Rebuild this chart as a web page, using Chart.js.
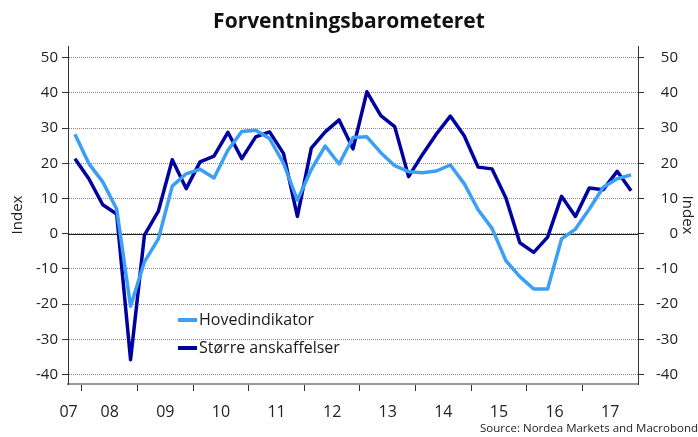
<!DOCTYPE html>
<html>
<head>
<meta charset="utf-8">
<script src="https://cdn.jsdelivr.net/npm/chart.js@4/dist/chart.umd.min.js"></script>
<style>
  html, body { margin: 0; padding: 0; background: #fff; }
  #wrap { width: 698px; height: 437px; }
</style>
</head>
<body>
<div id="wrap"><canvas id="chart"></canvas></div>
<script>
// quarterly observations, 2007Q4 - 2017Q4
const quarters = [
  '2007Q4',
  '2008Q1','2008Q2','2008Q3','2008Q4',
  '2009Q1','2009Q2','2009Q3','2009Q4',
  '2010Q1','2010Q2','2010Q3','2010Q4',
  '2011Q1','2011Q2','2011Q3','2011Q4',
  '2012Q1','2012Q2','2012Q3','2012Q4',
  '2013Q1','2013Q2','2013Q3','2013Q4',
  '2014Q1','2014Q2','2014Q3','2014Q4',
  '2015Q1','2015Q2','2015Q3','2015Q4',
  '2016Q1','2016Q2','2016Q3','2016Q4',
  '2017Q1','2017Q2','2017Q3','2017Q4'
]
const hovedindikator = [
  28.2,
  19.9, 14.7, 7.0, -20.6,
  -8.0, -1.5, 13.5, 17.0,
  18.3, 15.8, 23.7, 29.0,
  29.4, 27.0, 20.0, 9.5,
  18.2, 24.9, 19.8, 27.3,
  27.5, 23.0, 19.3, 17.6,
  17.3, 17.8, 19.5, 14.2,
  6.8, 1.5, -7.7, -12.2,
  -15.7, -15.7, -1.5, 1.3,
  7.0, 13.2, 15.6, 16.7
]
const anskaffelser = [
  21.3,
  15.6, 8.2, 5.6, -35.8,
  -0.4, 6.4, 21.0, 12.8,
  20.4, 22.0, 28.8, 21.3,
  27.5, 28.9, 22.8, 4.9,
  24.3, 28.9, 32.3, 24.1,
  40.3, 33.5, 30.4, 16.2,
  22.5, 28.3, 33.4, 27.8,
  18.9, 18.4, 10.1, -2.6,
  -5.3, -1.0, 10.6, 4.9,
  13.0, 12.5, 17.7, 12.2
]
const yTicks = [-40, -30, -20, -10, 0, 10, 20, 30, 40, 50]
const years = [2007, 2008, 2009, 2010, 2011, 2012, 2013, 2014, 2015, 2016, 2017]
const yMin = -42.7, yMax = 53.3
const xMin = 2007.75, xMax = 2018

const FONT = "'Open Sans', sans-serif"
const LIGHT = '#3a9ff5'
const DARK = '#0000a0'

// quarter label -> mid-quarter position on the time axis
const qx = q => +q.slice(0, 4) + (+q.slice(5) - 1) * 0.25 + 0.125
const series = arr => arr.map((v, i) => ({x: qx(quarters[i]), y: v}))

const fixTicks = values => scale => { scale.ticks = values.map(v => ({value: v})) }

// solid zero line on top of the dotted grid
const zeroLine = {
  id: 'zeroLine',
  beforeDatasetsDraw(chart) {
    const {ctx, chartArea, scales} = chart
    const y = Math.round(scales.y.getPixelForValue(0)) + 0.5
    ctx.save()
    ctx.strokeStyle = '#222'
    ctx.lineWidth = 1
    ctx.beginPath()
    ctx.moveTo(chartArea.left, y)
    ctx.lineTo(chartArea.right, y)
    ctx.stroke()
    ctx.restore()
  }
}

// legend sitting inside the plot, lower left
const innerLegend = {
  id: 'innerLegend',
  afterDatasetsDraw(chart) {
    const {ctx, chartArea} = chart
    const x0 = chartArea.left + 110
    let y = chartArea.top + 274
    ctx.save()
    ctx.font = '16px ' + FONT
    ctx.textBaseline = 'middle'
    chart.data.datasets.forEach(ds => {
      ctx.strokeStyle = ds.borderColor
      ctx.lineWidth = 4
      ctx.beginPath()
      ctx.moveTo(x0, y)
      ctx.lineTo(x0 + 19, y)
      ctx.stroke()
      ctx.fillStyle = '#1a1a1a'
      ctx.fillText(ds.label, x0 + 21, y)
      y += 28
    })
    ctx.restore()
  }
}

new Chart(document.getElementById('chart'), {
  type: 'line',
  data: {
    datasets: [
      {
        label: 'Hovedindikator',
        data: series(hovedindikator),
        borderColor: LIGHT,
        backgroundColor: LIGHT,
        borderWidth: 3.5,
        borderJoinStyle: 'round',
        pointRadius: 0,
        tension: 0
      },
      {
        label: 'Større anskaffelser',
        data: series(anskaffelser),
        borderColor: DARK,
        backgroundColor: DARK,
        borderWidth: 3.5,
        borderJoinStyle: 'round',
        pointRadius: 0,
        tension: 0
      }
    ]
  },
  options: {
    responsive: true,
    maintainAspectRatio: false,
    animation: false,
    layout: {padding: 0},
    plugins: {
      legend: {display: false},
      tooltip: {enabled: false},
      title: {
        display: true,
        text: 'Forventningsbarometeret',
        color: '#111',
        font: {family: FONT, size: 21, weight: 'bold', lineHeight: 1.2},
        padding: {top: 9.4, bottom: 11.4}
      },
      subtitle: {
        display: true,
        position: 'bottom',
        align: 'end',
        text: 'Source: Nordea Markets and Macrobond',
        color: '#222',
        font: {family: FONT, size: 11.5, lineHeight: 1.2},
        padding: {top: 0, bottom: 1.5}
      }
    },
    scales: {
      x: {
        type: 'linear',
        position: 'bottom',
        min: xMin,
        max: xMax,
        weight: 0,
        afterBuildTicks: fixTicks(years.slice(1)),
        afterFit: s => { s.height = 7 },
        ticks: {display: false},
        grid: {drawOnChartArea: false, drawTicks: true, tickLength: 7, tickColor: '#333', tickWidth: 1},
        border: {display: true, color: '#9a9a9a', width: 2}
      },
      xl: {
        type: 'linear',
        position: 'bottom',
        min: xMin,
        max: xMax,
        weight: 1,
        afterBuildTicks: fixTicks(years.map(y => Math.max(xMin + 0.01, y + 0.5))),
        afterFit: s => { s.height = 30.7 },
        ticks: {
          autoSkip: false,
          maxRotation: 0,
          padding: 4,
          color: '#222',
          font: {family: FONT, size: 16},
          callback: v => String(Math.floor(v)).slice(2)
        },
        grid: {display: false},
        border: {display: false}
      },
      y: {
        position: 'left',
        min: yMin,
        max: yMax,
        afterBuildTicks: fixTicks(yTicks),
        afterFit: s => { s.width = 68 },
        ticks: {padding: 4, color: '#222', font: {family: FONT, size: 15}},
        grid: {color: '#8a8a8a', lineWidth: 1, drawTicks: true, tickLength: 6, tickColor: '#333'},
        border: {display: true, color: '#333', width: 1, dash: [1, 1]},
        title: {display: true, text: 'Index', color: '#222', font: {family: FONT, size: 15}, padding: {top: 9}}
      },
      y2: {
        position: 'right',
        min: yMin,
        max: yMax,
        weight: 0,
        afterBuildTicks: fixTicks(yTicks),
        afterFit: s => { s.width = 40 },
        ticks: {padding: 4, crossAlign: 'far', color: '#222', font: {family: FONT, size: 15}},
        grid: {drawOnChartArea: false, drawTicks: true, tickLength: 6, tickColor: '#333'},
        border: {display: true, color: '#333', width: 1}
      },
      y3: {
        position: 'right',
        min: yMin,
        max: yMax,
        weight: 1,
        afterFit: s => { s.width = 20 },
        ticks: {display: false},
        grid: {display: false},
        border: {display: false},
        title: {display: true, text: 'Index', color: '#222', font: {family: FONT, size: 15}, padding: {top: 2}}
      }
    }
  },
  plugins: [zeroLine, innerLegend]
})
</script>
</body>
</html>
